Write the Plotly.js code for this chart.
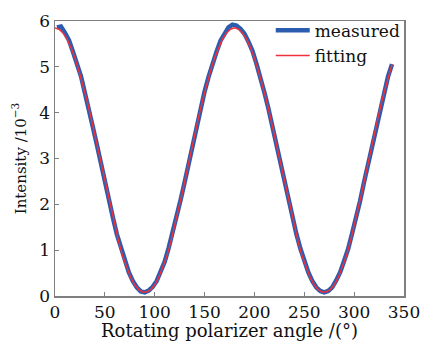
<!DOCTYPE html>
<html><head><meta charset="utf-8">
<script src="https://cdn.plot.ly/plotly-3.0.1.min.js"></script>
<style>html,body{margin:0;padding:0;background:#fff}#c{width:423px;height:341px}</style>
</head><body><div id="c"></div>
<script>
var angle = [2,6,10,14,18,22,26,30,34,38,42,46,50,54,58,62,66,70,74,78,82,86,90,94,98,102,106,110,114,118,122,126,130,134,138,142,146,150,154,158,162,166,170,174,178,182,186,190,194,198,202,206,210,214,218,222,226,230,234,238,242,246,250,254,258,262,266,270,274,278,282,286,290,294,298,302,306,310,314,318,322,326,330,334,338];
var measured = [5.86,5.88,5.74,5.58,5.33,5.06,4.80,4.43,4.10,3.68,3.30,2.88,2.49,2.08,1.72,1.35,1.05,0.75,0.52,0.33,0.19,0.10,0.08,0.12,0.20,0.33,0.53,0.75,1.05,1.37,1.70,2.10,2.48,2.90,3.28,3.70,4.07,4.46,4.78,5.08,5.33,5.57,5.71,5.86,5.92,5.90,5.83,5.72,5.55,5.35,5.07,4.79,4.44,4.09,3.70,3.29,2.90,2.47,2.09,1.70,1.36,1.04,0.77,0.52,0.33,0.19,0.11,0.08,0.11,0.19,0.34,0.52,0.77,1.03,1.37,1.71,2.08,2.49,2.87,3.30,3.68,4.10,4.43,4.79,5.06];
var fitAngle = [0,4,8,12,16,20,24,28,32,36,40,44,48,52,56,60,64,68,72,76,80,84,88,92,96,100,104,108,112,116,120,124,128,132,136,140,144,148,152,156,160,164,168,172,176,180,184,188,192,196,200,204,208,212,216,220,224,228,232,236,240,244,248,252,256,260,264,268,272,276,280,284,288,292,296,300,304,308,312,316,320,324,328,332,336,338];
var fitting = [5.85,5.82,5.74,5.61,5.42,5.19,4.91,4.61,4.27,3.90,3.51,3.11,2.69,2.28,1.89,1.52,1.17,0.86,0.61,0.40,0.24,0.14,0.09,0.09,0.14,0.24,0.40,0.61,0.86,1.17,1.52,1.89,2.28,2.69,3.11,3.51,3.90,4.27,4.61,4.91,5.19,5.42,5.61,5.74,5.82,5.85,5.82,5.74,5.61,5.42,5.19,4.91,4.61,4.27,3.90,3.51,3.11,2.69,2.28,1.89,1.52,1.17,0.86,0.61,0.40,0.24,0.14,0.09,0.09,0.14,0.24,0.40,0.61,0.86,1.17,1.52,1.89,2.28,2.69,3.11,3.51,3.90,4.27,4.61,4.91,5.06];
var xTicks = [0,50,100,150,200,250,300,350];
var yTicks = [0,1,2,3,4,5,6];

var font = "'DejaVu Serif', 'Liberation Serif', serif";
var axisCommon = {
  showgrid:false, zeroline:false, showline:true, mirror:true,
  linecolor:'#7f7f7f', linewidth:1.5, ticks:'inside', ticklen:4,
  tickcolor:'#7f7f7f', tickwidth:1, tickfont:{family:font,size:17,color:'#111'}
};
var data = [
  {x:angle, y:measured, type:'scatter', mode:'lines', name:'measured',
   line:{color:'#2b5cb0', width:4.5}},
  {x:fitAngle, y:fitting, type:'scatter', mode:'lines', name:'fitting',
   line:{color:'#f0303a', width:1.5}}
];
var layout = {
  width:423, height:341,
  margin:{l:55, r:19, t:21, b:45},
  paper_bgcolor:'#fff', plot_bgcolor:'#fff',
  showlegend:true,
  legend:{x:1.005, xanchor:'right', y:1.03, yanchor:'top', bgcolor:'rgba(0,0,0,0)',
          font:{family:font,size:17,color:'#111'}, tracegroupgap:0, itemwidth:34},
  xaxis:Object.assign({}, axisCommon, {range:[0,350], tickvals:xTicks, ticktext:xTicks.map(String),
    title:{text:'Rotating polarizer angle /(°)', font:{family:font,size:18,color:'#111'}, standoff:1}}),
  yaxis:Object.assign({}, axisCommon, {range:[0,6], tickvals:yTicks, ticktext:yTicks.map(String),
    title:{text:'Intensity /10<sup>−3</sup>', font:{family:font,size:15,color:'#111'}, standoff:9}})
};
Plotly.newPlot('c', data, layout, {staticPlot:true, displayModeBar:false});
</script></body></html>
